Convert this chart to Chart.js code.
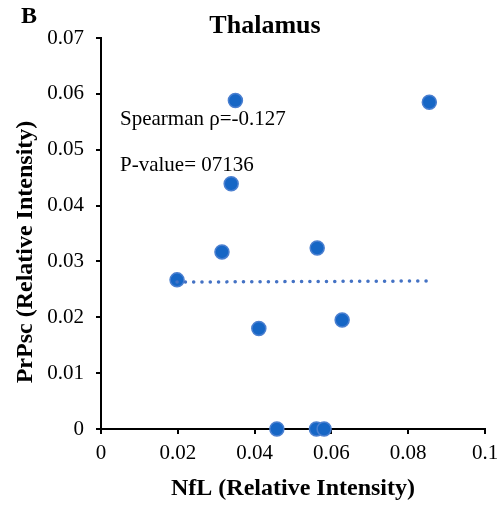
<!DOCTYPE html>
<html>
<head>
<meta charset="utf-8">
<script src="https://cdn.jsdelivr.net/npm/chart.js@4/dist/chart.umd.min.js"></script>
<style>
  html, body { margin: 0; padding: 0; background: #fff; }
</style>
</head>
<body>
<canvas id="thalamusChart" width="501" height="508"></canvas>
<script>
// values
const nflValues   = [0.0198, 0.0315, 0.0350, 0.0339, 0.0563, 0.0411, 0.0628, 0.0855, 0.0458, 0.0561, 0.0581];
const prpscValues = [0.0267, 0.0317, 0.0588, 0.0439, 0.0324, 0.0180, 0.0195, 0.0585, 0, 0, 0];

// dotted trend line ends
const trendX = [0.0198, 0.0855];
const trendY = [0.0263, 0.0265];

const panelLabel = 'B';
const chartTitle = 'Thalamus';
const yTitle = 'PrPsc (Relative Intensity)';
const xTitle = 'NfL (Relative Intensity)';
const statLines = ['Spearman ρ=-0.127', 'P-value= 07136'];

const serif = "'Liberation Serif', 'Times New Roman', serif";
Chart.defaults.font.family = serif;
Chart.defaults.color = '#000';

// panel letter, title, y title and stats text
const textPlugin = {
    id: 'textPlugin',
    afterDraw(chart) {
        const ctx = chart.ctx;
        const area = chart.chartArea;
        ctx.save();
        ctx.fillStyle = '#000';
        ctx.textBaseline = 'alphabetic';
        ctx.textAlign = 'left';
        ctx.font = `bold 24px ${serif}`;
        ctx.fillText(panelLabel, 21, 23);

        ctx.textAlign = 'center';
        ctx.font = `bold 26px ${serif}`;
        ctx.fillText(chartTitle, 265, 33);

        ctx.textAlign = 'left';
        ctx.font = `21px ${serif}`;
        ctx.fillText(statLines[0], area.left + 19, 125);
        ctx.fillText(statLines[1], area.left + 19, 171);

        ctx.translate(26, 252);
        ctx.rotate(-Math.PI / 2);
        ctx.textAlign = 'center';
        ctx.textBaseline = 'middle';
        ctx.font = `bold 24px ${serif}`;
        ctx.fillText(yTitle, 0, 0);
        ctx.restore();
    }
};

new Chart(document.getElementById('thalamusChart'), {
    type: 'scatter',
    data: {
        datasets: [
            {
                type: 'line',
                label: 'Trend',
                data: trendX.map((x, i) => ({ x: x, y: trendY[i] })),
                borderColor: '#4472C4',
                borderWidth: 3.5,
                borderDash: [0.1, 8.2],
                borderCapStyle: 'round',
                pointRadius: 0,
                fill: false,
                order: 0
            },
            {
                label: 'Samples',
                data: nflValues.map((x, i) => ({ x: x, y: prpscValues[i] })),
                backgroundColor: '#1666C5',
                borderColor: '#4a7fd0',
                borderWidth: 1.5,
                pointRadius: 7,
                pointHoverRadius: 7,
                clip: false,
                order: 1
            }
        ]
    },
    options: {
        responsive: false,
        animation: false,
        layout: { padding: { left: 0, right: 16, top: 38, bottom: 0 } },
        plugins: {
            legend: { display: false },
            tooltip: { enabled: false }
        },
        scales: {
            x: {
                type: 'linear',
                min: 0, max: 0.1,
                afterFit(scale) {
                    scale.height = 79;
                    scale.paddingLeft = 0;
                    scale.paddingRight = 0;
                },
                ticks: {
                    stepSize: 0.02,
                    font: { size: 21 },
                    padding: 7,
                    maxRotation: 0,
                    callback: v => String(Number(v.toFixed(2)))
                },
                grid: { drawOnChartArea: false, drawTicks: true, tickLength: 5, color: '#000', lineWidth: 2 },
                border: { color: '#000', width: 2 },
                title: {
                    display: true,
                    text: xTitle,
                    font: { size: 24, weight: 'bold', family: serif },
                    color: '#000',
                    padding: { top: 0, bottom: 5 }
                }
            },
            y: {
                type: 'linear',
                min: 0, max: 0.07,
                afterFit(scale) { scale.width = 101; },
                ticks: {
                    stepSize: 0.01,
                    font: { size: 21 },
                    padding: 12,
                    callback: v => String(Number(v.toFixed(2)))
                },
                grid: { drawOnChartArea: false, drawTicks: true, tickLength: 5, color: '#000', lineWidth: 2 },
                border: { color: '#000', width: 2 }
            }
        }
    },
    plugins: [textPlugin]
});
</script>
</body>
</html>
